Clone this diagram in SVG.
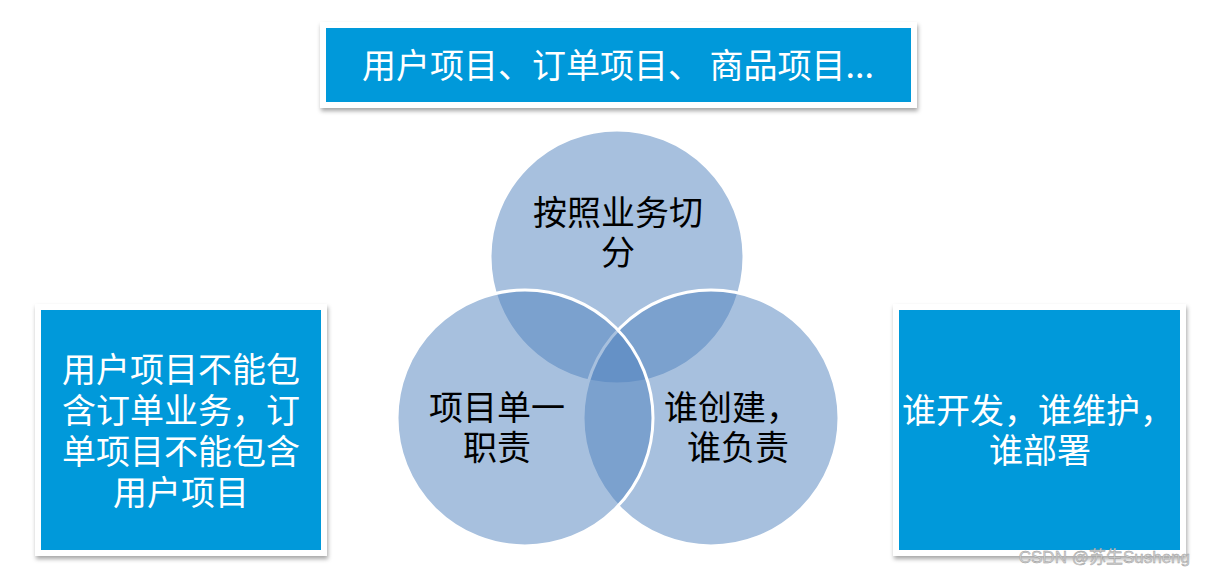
<svg xmlns="http://www.w3.org/2000/svg" width="1205" height="576" viewBox="0 0 1205 576">
<defs>
<filter id="sh" x="-10%" y="-10%" width="120%" height="130%">
<feDropShadow dx="1" dy="3" stdDeviation="2" flood-color="#000" flood-opacity="0.35"/>
</filter>
</defs>
<style>
.frame{fill:#fff;filter:url(#sh)}
.box{fill:#0099da}
.wt{font-family:"Noto Sans CJK SC","Microsoft YaHei",sans-serif;fill:#fff;text-anchor:middle}
.bt{font-family:"Noto Sans CJK SC","Microsoft YaHei",sans-serif;fill:#000;text-anchor:middle;font-size:34px}
.circ{fill:#4f81bd;fill-opacity:0.5;stroke:#fff;stroke-width:3}
</style>
<rect width="1205" height="576" fill="#fff"/>
<g id="top-box">
<rect class="frame" x="320" y="22" width="597" height="86"/>
<rect class="box" x="326" y="28" width="585" height="74"/>
<text class="wt" x="618" y="78" font-size="34">用户项目、订单项目、 商品项目...</text>
</g>
<g id="left-box">
<rect class="frame" x="35" y="304" width="292" height="252"/>
<rect class="box" x="41" y="310" width="280" height="240"/>
<text class="wt" font-size="34"><tspan x="181" y="382">用户项目不能包</tspan><tspan x="181" y="423">含订单业务，订</tspan><tspan x="181" y="464">单项目不能包含</tspan><tspan x="181" y="505">用户项目</tspan></text>
</g>
<g id="right-box">
<rect class="frame" x="893" y="304" width="293" height="252"/>
<rect class="box" x="899" y="310" width="281" height="240"/>
<text class="wt" font-size="34"><tspan x="1038" y="423">谁开发，谁维护，</tspan><tspan x="1040" y="463">谁部署</tspan></text>
</g>
<g id="venn">
<g id="circle-top"><circle class="circ" cx="617" cy="257" r="127"/></g>
<g id="circle-right"><circle class="circ" cx="711" cy="418" r="128"/></g>
<g id="circle-left"><circle class="circ" cx="525" cy="418" r="128"/></g>
<g id="label-top"><text class="bt"><tspan x="618" y="225">按照业务切</tspan><tspan x="618" y="265">分</tspan></text></g>
<g id="label-left"><text class="bt"><tspan x="497" y="420">项目单一</tspan><tspan x="497" y="460">职责</tspan></text></g>
<g id="label-right"><text class="bt"><tspan x="732" y="420">谁创建，</tspan><tspan x="738" y="460">谁负责</tspan></text></g>
</g>
<g id="connectors"/>
<text x="1190" y="563" text-anchor="end" font-family="'Liberation Sans','Noto Sans CJK SC',sans-serif" font-size="17" fill="#d0d0d0" stroke="#999" stroke-width="0.4">CSDN @苏生Susheng</text>
</svg>
